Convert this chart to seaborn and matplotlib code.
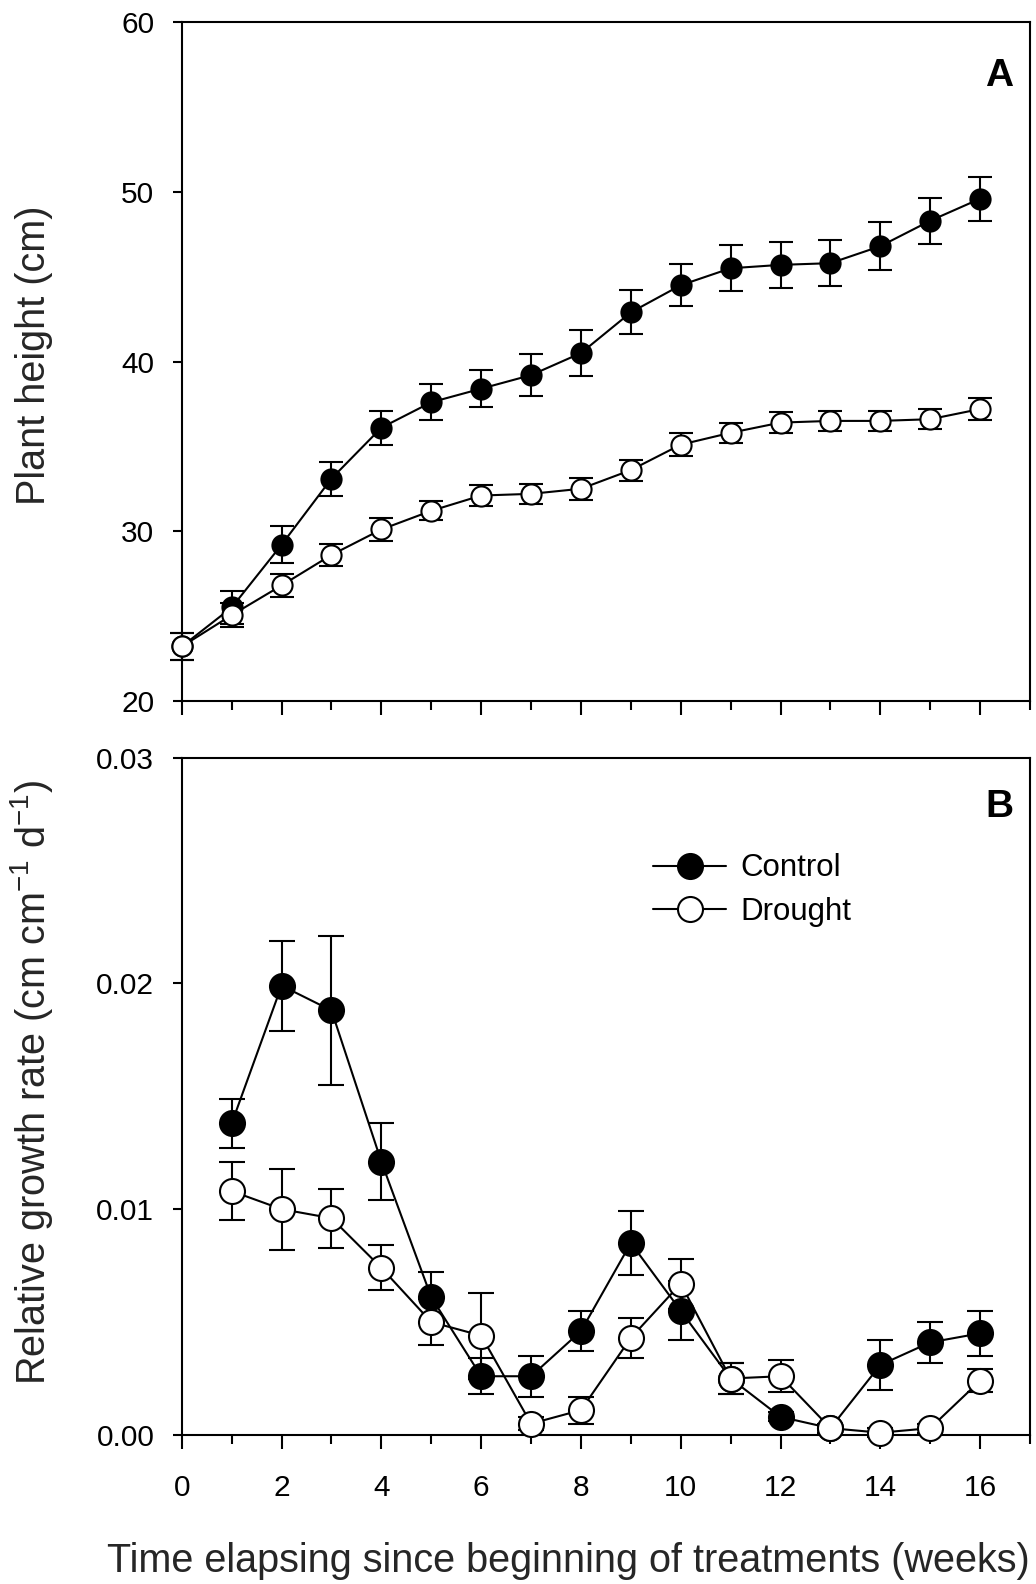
import numpy as np
import pandas as pd
import matplotlib
matplotlib.use("Agg")
import matplotlib.pyplot as plt
import seaborn as sns
from matplotlib.ticker import MultipleLocator, FormatStrFormatter

# ---------------- data ----------------
weeks_a = list(range(0, 17))
ctrl_height = [23.2, 25.5, 29.2, 33.1, 36.1, 37.6, 38.4, 39.2, 40.5, 42.9,
               44.5, 45.5, 45.7, 45.8, 46.8, 48.3, 49.6]
ctrl_height_err = [0.8, 1.0, 1.1, 1.0, 1.0, 1.05, 1.1, 1.25, 1.35, 1.3,
                   1.25, 1.35, 1.35, 1.35, 1.4, 1.35, 1.3]
drought_height = [23.2, 25.05, 26.8, 28.6, 30.1, 31.2, 32.1, 32.2, 32.5, 33.6,
                  35.1, 35.8, 36.4, 36.5, 36.5, 36.6, 37.2]
drought_height_err = [0.8, 0.7, 0.7, 0.65, 0.68, 0.55, 0.6, 0.57, 0.65, 0.62,
                      0.68, 0.6, 0.6, 0.6, 0.6, 0.6, 0.65]

weeks_b = list(range(1, 17))
ctrl_rgr = [0.0138, 0.0199, 0.0188, 0.0121, 0.0061, 0.0026, 0.0026, 0.0046,
            0.0085, 0.0055, 0.0025, 0.0008, 0.0003, 0.0031, 0.0041, 0.0045]
ctrl_rgr_err = [0.0011, 0.0020, 0.0033, 0.0017, 0.0011, 0.0008, 0.0009, 0.0009,
                0.0014, 0.0013, 0.0007, 0.0002, 0.0002, 0.0011, 0.0009, 0.0010]
drought_rgr = [0.0108, 0.0100, 0.0096, 0.0074, 0.0050, 0.0044, 0.0005, 0.0011,
               0.0043, 0.0067, 0.0025, 0.0026, 0.0003, 0.0001, 0.0003, 0.0024]
drought_rgr_err = [0.0013, 0.0018, 0.0013, 0.0010, 0.0010, 0.0019, 0.0003, 0.0006,
                   0.0009, 0.0011, 0.0007, 0.0007, 0.0002, 0.0002, 0.0002, 0.0005]

series_names = ["Control", "Drought"]
x_tick_labels = ["0", "2", "4", "6", "8", "10", "12", "14", "16"]

# ---------------- style ----------------
sns.set_style("ticks")
plt.rcParams["font.family"] = ["Liberation Sans", "DejaVu Sans"]
plt.rcParams["mathtext.fontset"] = "custom"
plt.rcParams["mathtext.rm"] = "Liberation Sans"
plt.rcParams["mathtext.it"] = "Liberation Sans:italic"
plt.rcParams["mathtext.bf"] = "Liberation Sans:bold"
plt.rcParams["axes.linewidth"] = 1.5
plt.rcParams["axes.edgecolor"] = "black"
plt.rcParams["xtick.color"] = "black"
plt.rcParams["ytick.color"] = "black"
plt.rcParams["text.color"] = "black"

fig = plt.figure(figsize=(10.36, 15.84), dpi=100)
axA = fig.add_axes([0.1755, 0.5576, 0.8187, 0.4283])
axB = fig.add_axes([0.1755, 0.0941, 0.8187, 0.4276])


def draw(ax, weeks, c, ce, d, de, ms, cap, with_label):
    ax.errorbar(weeks, c, yerr=ce, fmt="none", ecolor="black", elinewidth=1.5,
                capsize=cap, capthick=1.5, zorder=2, clip_on=False)
    ax.errorbar(weeks, d, yerr=de, fmt="none", ecolor="black", elinewidth=1.5,
                capsize=cap, capthick=1.5, zorder=2, clip_on=False)
    df_c = pd.DataFrame({"week": weeks, "value": c})
    df_d = pd.DataFrame({"week": weeks, "value": d})
    kw_c = dict(label=series_names[0]) if with_label else {}
    kw_d = dict(label=series_names[1]) if with_label else {}
    sns.lineplot(data=df_c, x="week", y="value", ax=ax, color="black", lw=1.5,
                 marker="o", markersize=ms, markerfacecolor="black",
                 markeredgecolor="black", markeredgewidth=1.5, errorbar=None,
                 zorder=3, clip_on=False, **kw_c)
    sns.lineplot(data=df_d, x="week", y="value", ax=ax, color="black", lw=1.5,
                 marker="o", markersize=ms, markerfacecolor="white",
                 markeredgecolor="black", markeredgewidth=1.5, errorbar=None,
                 zorder=4, clip_on=False, **kw_d)


draw(axA, weeks_a, ctrl_height, ctrl_height_err, drought_height,
     drought_height_err, ms=14.5, cap=8.5, with_label=False)
draw(axB, weeks_b, ctrl_rgr, ctrl_rgr_err, drought_rgr,
     drought_rgr_err, ms=18.0, cap=9.4, with_label=True)

for ax in (axA, axB):
    ax.set_xlim(0, 17)
    ax.set_xticks(range(0, 17, 2))
    ax.xaxis.set_minor_locator(MultipleLocator(1))
    ax.tick_params(axis="x", which="major", length=10.3, width=1.5,
                   direction="out", pad=18, labelsize=21.5)
    ax.tick_params(axis="x", which="minor", length=6.7, width=1.5,
                   direction="out")
    ax.tick_params(axis="y", which="major", length=6.5, width=1.5,
                   direction="out", pad=13.3, labelsize=21.5)
    for s in ax.spines.values():
        s.set_visible(True)
        s.set_linewidth(1.5)
        s.set_color("black")
    ax.set_xlabel("")

axA.set_ylim(20, 60)
axA.yaxis.set_major_locator(MultipleLocator(10))
axA.tick_params(axis="x", labelbottom=False)
axA.set_ylabel("Plant height (cm)", fontsize=28.5)
axA.yaxis.set_label_coords(-0.161, 0.51)
axA.yaxis.label.set_va("baseline")
axA.text(0.980, 0.906, "A", transform=axA.transAxes, ha="right",
         va="baseline", fontsize=28, fontweight="bold")
if axA.get_legend() is not None:
    axA.get_legend().remove()

axB.set_ylim(0, 0.03)
axB.yaxis.set_major_locator(MultipleLocator(0.01))
axB.yaxis.set_major_formatter(FormatStrFormatter("%.2f"))
axB.set_xticklabels(x_tick_labels)
axB.tick_params(axis="both", labelsize=21.5)
axB.set_ylabel(r"Relative growth rate (cm cm$^{-1}$ d$^{-1}$)", fontsize=28.5)
axB.yaxis.set_label_coords(-0.161, 0.52)
axB.yaxis.label.set_va("baseline")
axB.set_xlabel("Time elapsing since beginning of treatments (weeks)",
               fontsize=28.5)
axB.xaxis.set_label_coords(0.4553, -0.202)
axB.xaxis.label.set_va("baseline")
axB.text(0.980, 0.912, "B", transform=axB.transAxes, ha="right",
         va="baseline", fontsize=28, fontweight="bold")

handles, labels = axB.get_legend_handles_labels()
axB.legend(handles, labels, loc="center left", bbox_to_anchor=(0.5555, 0.8045),
           frameon=False, fontsize=22.5, handlelength=2.35, handletextpad=0.45,
           labelspacing=0.42, borderpad=0, borderaxespad=0)

fig.savefig("out.png", dpi=100)
